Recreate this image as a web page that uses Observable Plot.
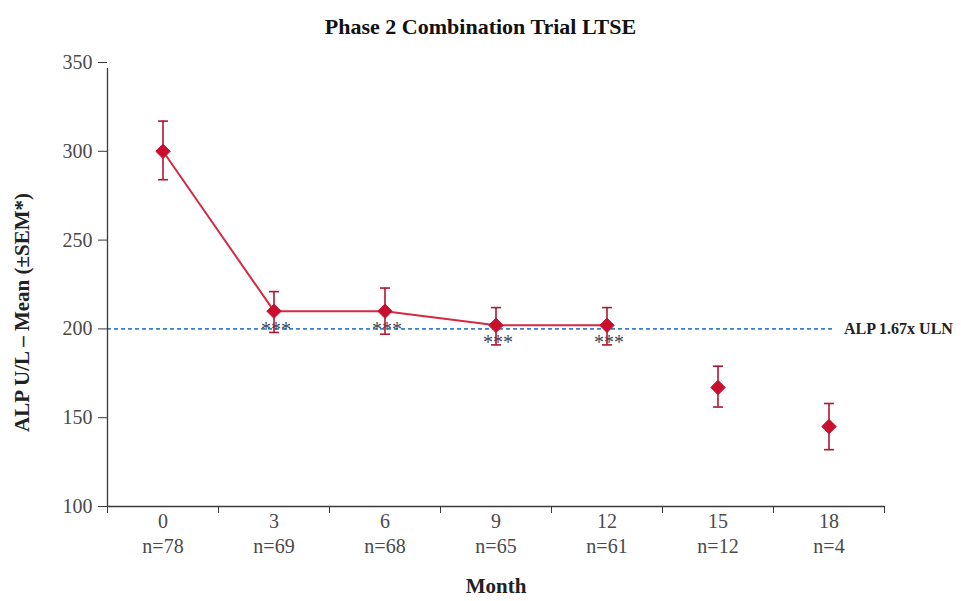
<!DOCTYPE html>
<html>
<head>
<meta charset="utf-8">
<script src="https://cdn.jsdelivr.net/npm/d3@7"></script>
<script src="https://cdn.jsdelivr.net/npm/@observablehq/plot@0.6"></script>
<style>
  html, body { margin: 0; padding: 0; background: #fff; }
  #title { box-sizing: border-box; height: 40px; padding-top: 15px; line-height: 24px; text-align: center;
           font-family: "Liberation Serif", "Times New Roman", serif; font-weight: bold; font-size: 22px; color: #111; }
  #chart svg { display: block; }
</style>
</head>
<body>
<div id="title">Phase 2 Combination Trial LTSE</div>
<div id="chart"></div>
<script>
// ---- data ----
const months = [0, 3, 6, 9, 12, 15, 18];
const nValues = [78, 69, 68, 65, 61, 12, 4];
const means = [300, 210, 210, 202, 202, 167, 145];
const upper = [317, 221, 223, 212, 212, 179, 158];
const lower = [284, 198, 197, 191, 191, 156, 132];
const connected = [true, true, true, true, true, false, false];
const sigAbove = [3, 6];       // "***" drawn on the reference line
const sigBelow = [9, 12];      // "***" drawn just below it
const refValue = 200;
const refLabel = "ALP 1.67x ULN";
const yTicks = [100, 150, 200, 250, 300, 350];
const yLabel = "ALP U/L \u2013 Mean (\u00B1SEM*)";
const xLabel = "Month";

const rows = months.map((m, i) => ({month: m, n: nValues[i], mean: means[i], hi: upper[i], lo: lower[i], line: connected[i]}));
const step = months[1] - months[0];
const xMin = months[0] - step / 2;
const xMax = months[months.length - 1] + step / 2;
const boundaries = months.map(m => m - step / 2).concat([xMax]);

const serif = "Liberation Serif, Times New Roman, serif";
const capSymbol = {draw(ctx, size) { const w = Math.sqrt(size) / 2; ctx.moveTo(-w, 0); ctx.lineTo(w, 0); }};

const axisColor = "#3a3a3a";
const red = "#d42a42";
const darkRed = "#b01530";

const plot = Plot.plot({
  width: 961,
  height: 561,
  marginTop: 22,
  marginBottom: 95,
  marginLeft: 107,
  marginRight: 77,
  style: {fontFamily: serif, fontSize: "20px", color: "#444", background: "#fff"},
  x: {domain: [xMin, xMax], axis: null},
  y: {domain: [yTicks[0], yTicks[yTicks.length - 1]], axis: null},
  marks: [
    // reference line
    Plot.ruleY([refValue], {x1: xMin, x2: months[months.length - 1], insetRight: -6, stroke: "#3d7fc4", strokeWidth: 1.6, strokeDasharray: "4,3"}),
    Plot.text([refValue], {x: months[months.length - 1], y: d => d, text: () => refLabel, dx: 15, textAnchor: "start", fontWeight: "bold", fontSize: 16, fill: "#222"}),
    // axes lines
    Plot.ruleX([xMin], {y1: yTicks[0], y2: yTicks[yTicks.length - 1], insetBottom: -6, stroke: axisColor, strokeWidth: 1.3}),
    Plot.ruleY([yTicks[0]], {x1: xMin, x2: xMax, stroke: axisColor, strokeWidth: 1.3}),
    // y ticks and labels
    Plot.axisY({ticks: yTicks, tickSize: 9, tickPadding: 6, stroke: axisColor, fill: "#4a4a4a", fontSize: 20, label: null}),
    // x boundary ticks
    Plot.axisX({ticks: boundaries, tickSize: 7, tickFormat: () => "", stroke: axisColor, label: null}),
    // x labels
    Plot.text(rows, {x: "month", frameAnchor: "bottom", dy: 21, text: d => String(d.month), fill: "#4a4a4a", fontSize: 20}),
    Plot.text(rows, {x: "month", frameAnchor: "bottom", dy: 46, text: d => "n=" + d.n, fill: "#4a4a4a", fontSize: 20}),
    Plot.text([xLabel], {frameAnchor: "bottom", dy: 86, text: d => d, fontWeight: "bold", fill: "#222", fontSize: 21}),
    // y label
    Plot.text([yLabel], {frameAnchor: "left", textAnchor: "middle", dx: -85, dy: 28, rotate: -90, text: d => d, fontWeight: "bold", fill: "#222", fontSize: 21}),
    // significance marks
    Plot.text(sigAbove, {x: d => d, y: () => refValue, dy: 1, text: () => "***", fontSize: 20, letterSpacing: "4px", dx: 2, fill: "#3c4656"}),
    Plot.text(sigBelow, {x: d => d, y: () => refValue, dy: 14, text: () => "***", fontSize: 20, letterSpacing: "4px", dx: 2, fill: "#3c4656"}),
    // series
    Plot.line(rows.filter(d => d.line), {x: "month", y: "mean", stroke: red, strokeWidth: 2}),
    Plot.ruleX(rows, {x: "month", y1: "lo", y2: "hi", stroke: darkRed, strokeWidth: 1.6}),
    Plot.dot(rows, {x: "month", y: "hi", symbol: capSymbol, r: 5.6, stroke: darkRed, strokeWidth: 1.6}),
    Plot.dot(rows, {x: "month", y: "lo", symbol: capSymbol, r: 5.6, stroke: darkRed, strokeWidth: 1.6}),
    Plot.dot(rows, {x: "month", y: "mean", symbol: "diamond2", r: 6.5, fill: "#c8102e", stroke: "#c8102e", strokeWidth: 1})
  ]
});
document.getElementById("chart").appendChild(plot);
</script>
</body>
</html>
